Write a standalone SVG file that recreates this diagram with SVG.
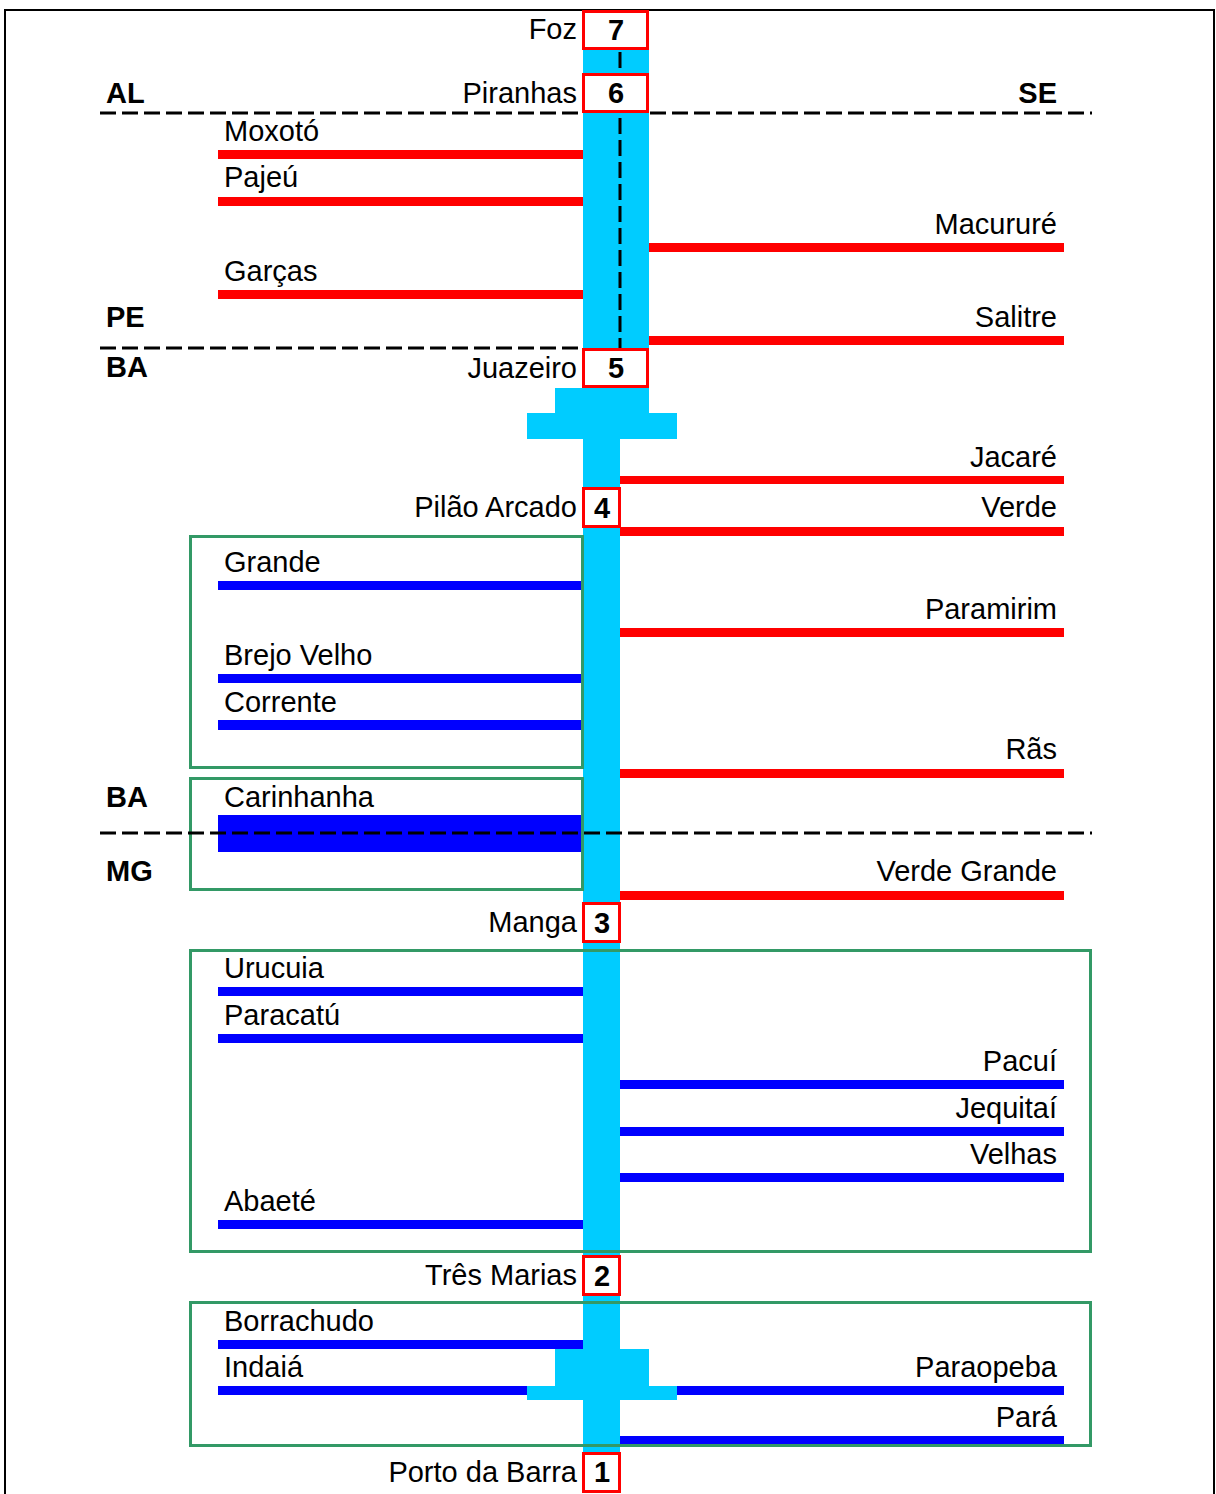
<svg xmlns="http://www.w3.org/2000/svg" width="1216" height="1494" viewBox="0 0 1216 1494">
<style>
text{font-family:"Liberation Sans",Arial,sans-serif;font-size:29px;fill:#000}
.b{font-weight:bold}
.n{font-weight:bold;text-anchor:middle}
.r{text-anchor:end}
.ch{fill:#00CCFF}
.red{fill:#FF0000}
.blue{fill:#0000FF}
.box{fill:#fff;stroke:#FF0000;stroke-width:3}
.grp{fill:none;stroke:#339966;stroke-width:3}
.dash{stroke:#000;stroke-width:3;stroke-dasharray:16 6;fill:none}
</style>
<rect x="0" y="0" width="1216" height="1494" fill="#fff"/>
<rect x="5" y="10" width="1209" height="1490" fill="none" stroke="#000" stroke-width="2"/>

<g id="river">
<rect class="ch" x="583" y="50" width="66" height="298"/>
<rect class="ch" x="555" y="388" width="94" height="25"/>
<rect class="ch" x="527" y="413" width="150" height="26"/>
<rect class="ch" x="583" y="388" width="37" height="1064"/>
<rect class="ch" x="555" y="1349" width="94" height="37"/>
<rect class="ch" x="527" y="1386" width="150" height="14"/>
<line class="dash" x1="620" y1="52" x2="620" y2="348"/>
</g>

<g id="groups">
<rect class="grp" x="190.5" y="536.5" width="392" height="231"/>
<rect class="grp" x="190.5" y="778.5" width="392" height="111"/>
<rect class="grp" x="190.5" y="950.5" width="900" height="301"/>
<rect class="grp" x="190.5" y="1302.5" width="900" height="143"/>
</g>

<g id="tributaries">
<g id="moxoto"><rect class="red" x="218" y="150" width="365" height="9"/><text x="224" y="141">Moxotó</text></g>
<g id="pajeu"><rect class="red" x="218" y="197" width="365" height="9"/><text x="224" y="187">Pajeú</text></g>
<g id="macurure"><rect class="red" x="649" y="243" width="415" height="9"/><text class="r" x="1057" y="234">Macururé</text></g>
<g id="garcas"><rect class="red" x="218" y="290" width="365" height="9"/><text x="224" y="281">Garças</text></g>
<g id="salitre"><rect class="red" x="649" y="336" width="415" height="9"/><text class="r" x="1057" y="327">Salitre</text></g>
<g id="jacare"><rect class="red" x="620" y="476" width="444" height="8"/><text class="r" x="1057" y="467">Jacaré</text></g>
<g id="verde"><rect class="red" x="620" y="527" width="444" height="9"/><text class="r" x="1057" y="517">Verde</text></g>
<g id="paramirim"><rect class="red" x="620" y="628" width="444" height="9"/><text class="r" x="1057" y="619">Paramirim</text></g>
<g id="ras"><rect class="red" x="620" y="769" width="444" height="9"/><text class="r" x="1057" y="759">Rãs</text></g>
<g id="verdegrande"><rect class="red" x="620" y="891" width="444" height="9"/><text class="r" x="1057" y="881">Verde Grande</text></g>

<g id="grande"><rect class="blue" x="218" y="581" width="363" height="9"/><text x="224" y="572">Grande</text></g>
<g id="brejovelho"><rect class="blue" x="218" y="674" width="363" height="9"/><text x="224" y="665">Brejo Velho</text></g>
<g id="corrente"><rect class="blue" x="218" y="720" width="363" height="10"/><text x="224" y="712">Corrente</text></g>
<g id="carinhanha"><rect class="blue" x="218" y="815" width="363" height="37"/><text x="224" y="807">Carinhanha</text></g>
<g id="urucuia"><rect class="blue" x="218" y="987" width="365" height="9"/><text x="224" y="978">Urucuia</text></g>
<g id="paracatu"><rect class="blue" x="218" y="1034" width="365" height="9"/><text x="224" y="1025">Paracatú</text></g>
<g id="pacui"><rect class="blue" x="620" y="1080" width="444" height="9"/><text class="r" x="1057" y="1071">Pacuí</text></g>
<g id="jequitai"><rect class="blue" x="620" y="1127" width="444" height="9"/><text class="r" x="1057" y="1118">Jequitaí</text></g>
<g id="velhas"><rect class="blue" x="620" y="1173" width="444" height="9"/><text class="r" x="1057" y="1164">Velhas</text></g>
<g id="abaete"><rect class="blue" x="218" y="1220" width="365" height="9"/><text x="224" y="1211">Abaeté</text></g>
<g id="borrachudo"><rect class="blue" x="218" y="1340" width="365" height="9"/><text x="224" y="1331">Borrachudo</text></g>
<g id="indaia"><rect class="blue" x="218" y="1386" width="309" height="9"/><text x="224" y="1377">Indaiá</text></g>
<g id="paraopeba"><rect class="blue" x="677" y="1386" width="387" height="9"/><text class="r" x="1057" y="1377">Paraopeba</text></g>
<g id="para"><rect class="blue" x="620" y="1436" width="444" height="8"/><text class="r" x="1057" y="1427">Pará</text></g>
</g>

<g id="stations">
<g id="st7"><rect class="box" x="583.5" y="11.5" width="64" height="37"/><text class="n" x="616" y="40">7</text><text class="r" x="577" y="39">Foz</text></g>
<g id="st6"><rect class="box" x="583.5" y="74.5" width="64" height="37"/><text class="n" x="616" y="103">6</text><text class="r" x="577" y="103">Piranhas</text></g>
<g id="st5"><rect class="box" x="583.5" y="349.5" width="64" height="37"/><text class="n" x="616" y="378">5</text><text class="r" x="577" y="378">Juazeiro</text></g>
<g id="st4"><rect class="box" x="583.5" y="488.5" width="36" height="38"/><text class="n" x="602" y="518">4</text><text class="r" x="577" y="517">Pilão Arcado</text></g>
<g id="st3"><rect class="box" x="583.5" y="903.5" width="36" height="38"/><text class="n" x="602" y="933">3</text><text class="r" x="577" y="932">Manga</text></g>
<g id="st2"><rect class="box" x="583.5" y="1256.5" width="36" height="38"/><text class="n" x="602" y="1286">2</text><text class="r" x="577" y="1285">Três Marias</text></g>
<g id="st1"><rect class="box" x="583.5" y="1453.5" width="36" height="38"/><text class="n" x="602" y="1482">1</text><text class="r" x="577" y="1482">Porto da Barra</text></g>
</g>

<g id="borders">
<line class="dash" x1="100" y1="113" x2="583" y2="113"/>
<line class="dash" x1="650" y1="113" x2="1092" y2="113"/>
<line class="dash" x1="100" y1="348" x2="582" y2="348"/>
<line class="dash" x1="100" y1="833" x2="1092" y2="833"/>
<text class="b" x="106" y="103">AL</text>
<text class="b r" x="1057" y="103">SE</text>
<text class="b" x="106" y="327">PE</text>
<text class="b" x="106" y="377">BA</text>
<text class="b" x="106" y="807">BA</text>
<text class="b" x="106" y="881">MG</text>
</g>
</svg>
